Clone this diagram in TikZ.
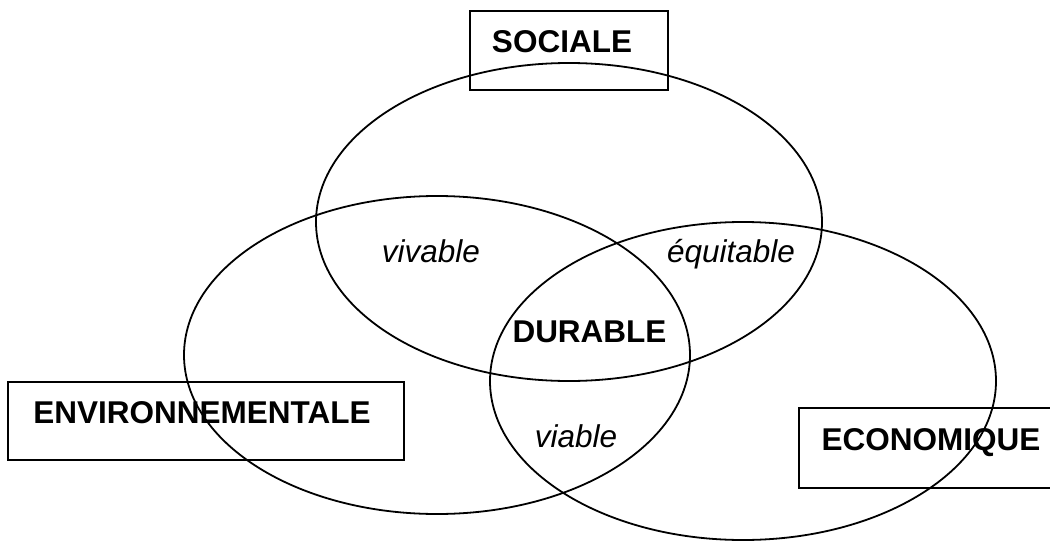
\documentclass[tikz,border=0pt]{standalone}
\usepackage{fontspec}
\setmainfont{Liberation Sans}
\usepackage{tikz}
\usetikzlibrary{shapes.geometric}

\begin{document}
\begin{tikzpicture}[x=1pt, y=-1pt,
  cercle/.style={draw, ellipse, line width=1.8pt, minimum width=506pt, minimum height=318pt, inner sep=0pt},
  cadre/.style={draw, rectangle, line width=1.8pt, inner sep=0pt},
  pilier/.style={font=\fontsize{31.5}{36}\selectfont\bfseries, anchor=base, inner sep=0pt},
  qualite/.style={font=\fontsize{31.5}{36}\selectfont\itshape, anchor=base, inner sep=0pt}]

\path[use as bounding box, clip] (0,0) rectangle (1050,541);

% cadres des trois piliers
\node[cadre, minimum width=198pt, minimum height=79pt] (bsoc) at (569,50.5) {};
\node[cadre, minimum width=396pt, minimum height=78pt] (benv) at (206,421) {};
\node[cadre, minimum width=270pt, minimum height=80pt] (beco) at (934,448) {};

\node[pilier] (soc) at (562,52) {SOCIALE};
\node[pilier] (env) at (202,423) {ENVIRONNEMENTALE};
\node[pilier] (eco) at (931,450) {ECONOMIQUE};

% les trois ensembles
\node[cercle] (esoc) at (569,222) {};
\node[cercle] (eenv) at (437,355) {};
\node[cercle] (eeco) at (743,381) {};

% intersections
\node[qualite] (viv) at (431,262) {vivable};
\node[qualite] (equ) at (731,262) {équitable};
\node[qualite] (via) at (576,447) {viable};
\node[pilier] (dur) at (589.5,342) {DURABLE};

\end{tikzpicture}
\end{document}
